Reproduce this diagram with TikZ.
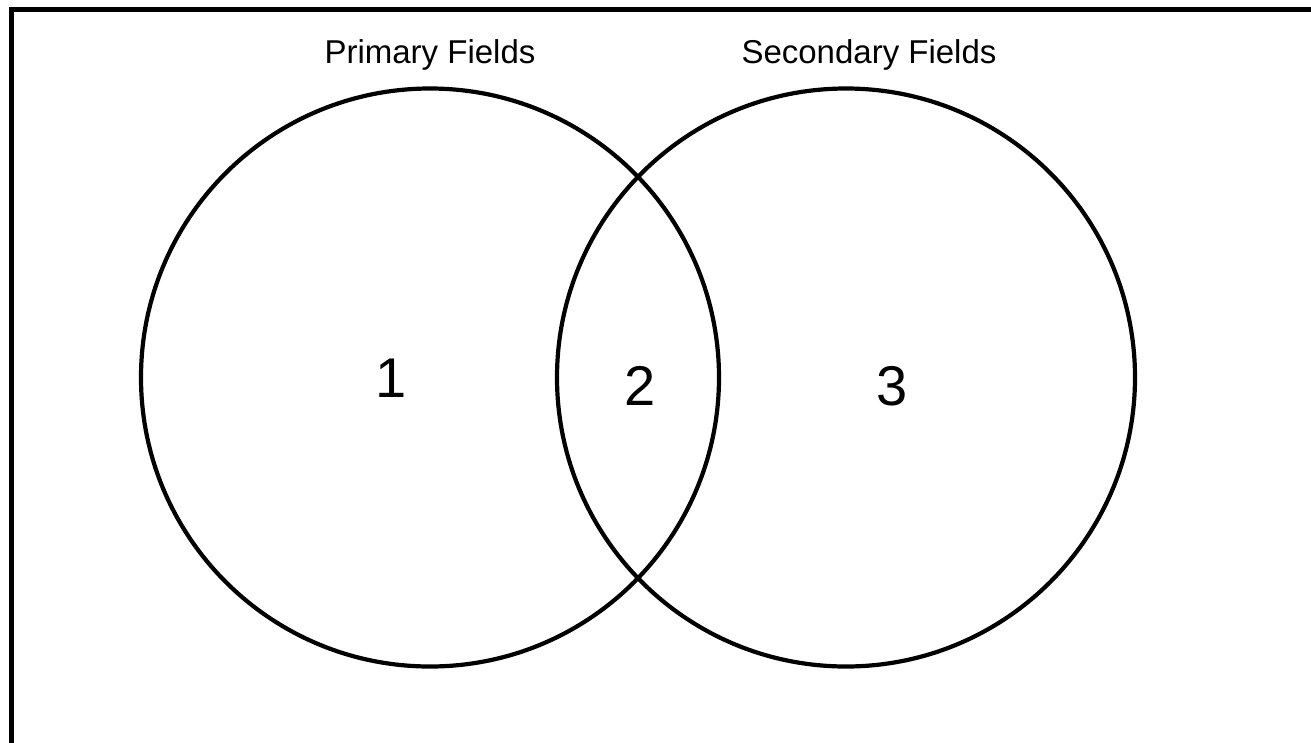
\documentclass[tikz,border=0pt]{standalone}
\usepackage{fontspec}
\setmainfont{Liberation Sans}
\begin{document}
\begin{tikzpicture}[x=1pt,y=-1pt,
  setring/.style={circle, draw=black, line width=4.2pt, minimum size=578pt, inner sep=0pt},
  settitle/.style={anchor=base, font=\fontsize{33}{38}\selectfont},
  region/.style={anchor=center, font=\fontsize{56}{62}\selectfont}]
  \useasboundingbox (0,0) rectangle (1311,742);
  % outer frame, running off the right and bottom edges
  \draw[line width=5pt] (11,9) rectangle (1330,760);
  % the two sets
  \node[setring] (primary) at (430,377.5) {};
  \node[setring] (secondary) at (846,377.5) {};
  % set titles
  \node[settitle] (ptitle) at (430,63) {Primary Fields};
  \node[settitle] (stitle) at (869,63) {Secondary Fields};
  % region numbers
  \node[region] (r1) at (391,378) {1};
  \node[region] (r2) at (640,386) {2};
  \node[region] (r3) at (892,386) {3};
\end{tikzpicture}
\end{document}
